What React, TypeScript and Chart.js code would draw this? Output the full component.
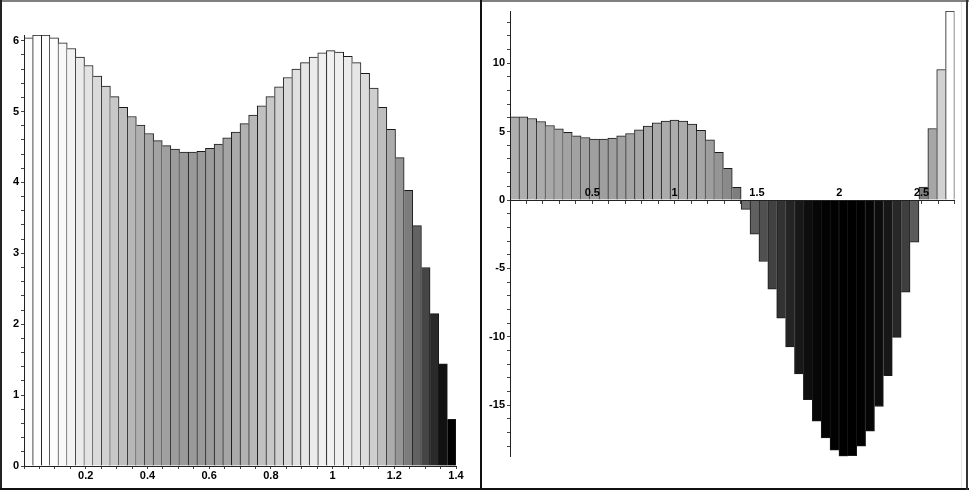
import React, { useEffect, useRef } from 'react';
import { Chart, registerables } from 'chart.js';

Chart.register(...registerables);

// ---------- data ----------
const leftBinWidth = 0.028;
const leftValues = [
  6.04, 6.08, 6.08, 6.04, 5.97, 5.89, 5.77, 5.65, 5.5, 5.36,
  5.21, 5.06, 4.93, 4.81, 4.69, 4.59, 4.52, 4.47, 4.43, 4.43,
  4.44, 4.48, 4.54, 4.63, 4.71, 4.83, 4.95, 5.08, 5.21, 5.35,
  5.48, 5.6, 5.69, 5.77, 5.83, 5.86, 5.84, 5.78, 5.69, 5.54,
  5.33, 5.06, 4.75, 4.35, 3.89, 3.39, 2.8, 2.15, 1.44, 0.66,
];
const leftXMajor = [0.2, 0.4, 0.6, 0.8, 1, 1.2, 1.4];
const leftXLabels = ['0.2', '0.4', '0.6', '0.8', '1', '1.2', '1.4'];
const leftYMajor = [0, 1, 2, 3, 4, 5, 6];
const leftYLabels = ['0', '1', '2', '3', '4', '5', '6'];

const rightBinWidth = 0.054;
const rightValues = [
  6.08, 6.08, 5.96, 5.74, 5.45, 5.2, 4.94, 4.69, 4.57, 4.45,
  4.45, 4.53, 4.69, 4.86, 5.13, 5.4, 5.64, 5.77, 5.84, 5.77,
  5.55, 5.09, 4.4, 3.48, 2.31, 0.93, -0.68, -2.5, -4.5, -6.52,
  -8.64, -10.75, -12.72, -14.6, -16.18, -17.4, -18.3, -18.74, -18.7, -18.0,
  -16.9, -15.1, -12.85, -10.05, -6.74, -3.09, 0.95, 5.23, 9.54, 13.82,
];
const rightXMajor = [0.5, 1, 1.5, 2, 2.5];
const rightXLabels = ['0.5', '1', '1.5', '2', '2.5'];
const rightYMajor = [-15, -10, -5, 0, 5, 10];
const rightYLabels = ['-15', '-10', '-5', '0', '5', '10'];

// ---------- helpers ----------
const FONT = { family: '"Liberation Sans", Arial, sans-serif', size: 11, weight: 'bold' as const };

function stepTicks(from: number, to: number, step: number) {
  const out: { value: number }[] = [];
  const n = Math.round((to - from) / step);
  for (let k = 0; k <= n; k++) out.push({ value: Math.round((from + k * step) * 1e6) / 1e6 });
  return out;
}

function labeler(major: number[], labels: string[]) {
  return (v: number | string) => {
    const num = Number(v);
    const i = major.findIndex((m) => Math.abs(m - num) < 1e-6);
    return i >= 0 ? labels[i] : '';
  };
}

function grayFor(v: number, lo: number, hi: number) {
  const t = Math.max(0, Math.min(1, (v - lo) / (hi - lo)));
  const g = Math.round(255 * Math.pow(t, 1.4));
  return `rgb(${g},${g},${g})`;
}

function borderFor(values: number[]) {
  return (ctx: any) => {
    const i = ctx.dataIndex;
    const v = values[i];
    const prev = i > 0 ? values[i - 1] : null;
    const next = i < values.length - 1 ? values[i + 1] : null;
    if (v >= 0) {
      return {
        top: 1,
        bottom: 0,
        left: prev === null || prev <= v ? 1 : 0,
        right: next === null || next < v ? 1 : 0,
      };
    }
    return {
      top: 0,
      bottom: 1,
      left: prev === null || prev >= v ? 1 : 0,
      right: next === null || next > v ? 1 : 0,
    };
  };
}

function makeDataset(values: number[], bin: number) {
  const lo = Math.min(...values);
  const hi = Math.max(...values);
  return {
    data: values.map((v, i) => ({ x: (i + 0.5) * bin, y: v })),
    backgroundColor: values.map((v) => grayFor(v, lo, hi)),
    borderColor: '#1a1a1a',
    borderWidth: borderFor(values),
    borderSkipped: false as const,
    categoryPercentage: 1,
    barPercentage: 1,
  };
}

// ---------- configs ----------
function leftConfig(): any {
  return {
    type: 'bar',
    data: { datasets: [makeDataset(leftValues, leftBinWidth)] },
    options: {
      animation: false,
      responsive: false,
      maintainAspectRatio: false,
      layout: { padding: { left: 0, right: 24, top: 35, bottom: 0 } },
      plugins: { legend: { display: false }, tooltip: { enabled: false } },
      scales: {
        x: {
          type: 'linear',
          min: 0,
          max: 1.4,
          position: 'bottom',
          offset: false,
          afterBuildTicks: (s: any) => { s.ticks = stepTicks(0, 1.4, 0.05); },
          afterFit: (s: any) => { s.height = 26; },
          grid: { offset: false, drawOnChartArea: false, tickLength: 3, tickColor: '#444' },
          border: { color: '#222', width: 1, z: 1 },
          ticks: {
            autoSkip: false, maxRotation: 0, minRotation: 0, padding: 0, color: '#000', font: FONT,
            callback: labeler(leftXMajor, leftXLabels),
          },
        },
        y: {
          type: 'linear',
          min: 0,
          max: 6.08,
          position: 'left',
          afterBuildTicks: (s: any) => { s.ticks = stepTicks(0, 6, 0.2); },
          afterFit: (s: any) => { s.width = 24; },
          grid: { drawOnChartArea: false, tickLength: 3, tickColor: '#444' },
          border: { color: '#222', width: 1, z: 1 },
          ticks: {
            autoSkip: false, padding: 2, color: '#000', font: FONT,
            callback: labeler(leftYMajor, leftYLabels),
          },
        },
      },
    },
  };
}

function rightConfig(): any {
  return {
    type: 'bar',
    data: { datasets: [makeDataset(rightValues, rightBinWidth)] },
    options: {
      animation: false,
      responsive: false,
      maintainAspectRatio: false,
      layout: { padding: { left: 0, right: 11.5, top: 11, bottom: 35.3 } },
      plugins: { legend: { display: false }, tooltip: { enabled: false } },
      scales: {
        x: {
          type: 'linear',
          min: 0,
          max: 2.7,
          position: { y: 0 },
          offset: false,
          afterBuildTicks: (s: any) => { s.ticks = stepTicks(0, 2.7, 0.1); },
          afterFit: (s: any) => { s.height = 0; },
          grid: { offset: false, drawOnChartArea: false, tickLength: 3, tickColor: '#444' },
          border: { color: '#222', width: 1, z: 1 },
          ticks: {
            autoSkip: false, maxRotation: 0, minRotation: 0, padding: -17, color: '#000', font: FONT, z: 1,
            callback: labeler(rightXMajor, rightXLabels),
          },
        },
        y: {
          type: 'linear',
          min: -18.77,
          max: 13.82,
          position: 'left',
          afterBuildTicks: (s: any) => { s.ticks = stepTicks(-18, 13, 1); },
          afterFit: (s: any) => { s.width = 28; },
          grid: { drawOnChartArea: false, tickLength: 3, tickColor: '#444' },
          border: { color: '#222', width: 1, z: 1 },
          ticks: {
            autoSkip: false, padding: 2, color: '#000', font: FONT,
            callback: labeler(rightYMajor, rightYLabels),
          },
        },
      },
    },
  };
}

function Panel({ make, left, width }: { make: () => any; left: number; width: number }) {
  const ref = useRef<HTMLCanvasElement>(null);
  useEffect(() => {
    const chart = new Chart(ref.current as HTMLCanvasElement, make());
    return () => chart.destroy();
  }, []);
  return (
    <canvas
      ref={ref}
      width={width}
      height={492}
      style={{ position: 'absolute', left, top: 0, width, height: 492 }}
    />
  );
}

export default function App() {
  const line = (s: React.CSSProperties) => <div style={{ position: 'absolute', ...s }} />;
  return (
    <div style={{ position: 'fixed', left: 0, top: 0, width: 969, height: 492, background: '#fff', overflow: 'hidden' }}>
      <Panel make={leftConfig} left={0} width={480} />
      <Panel make={rightConfig} left={482} width={484} />
      {line({ left: 0, top: 0, width: 969, height: 2, background: '#808080' })}
      {line({ left: 0, top: 0, width: 2, height: 490, background: '#222' })}
      {line({ left: 480, top: 0, width: 2, height: 490, background: '#111' })}
      {line({ left: 0, top: 488, width: 969, height: 2, background: '#111' })}
      {line({ left: 961, top: 2, width: 1, height: 486, background: '#e2e2e2' })}
      {line({ left: 966, top: 0, width: 2, height: 490, background: '#333' })}
    </div>
  );
}
